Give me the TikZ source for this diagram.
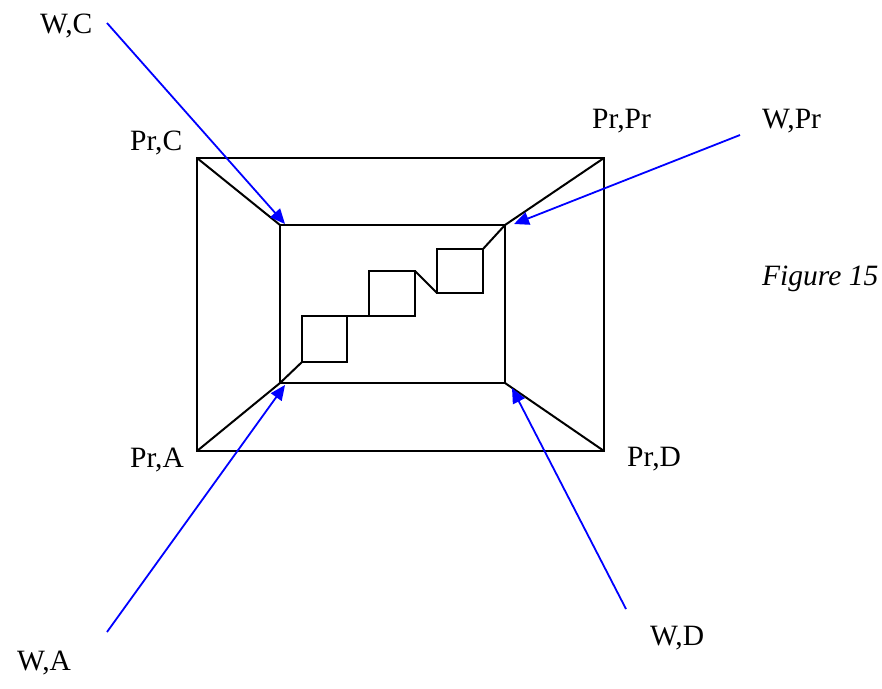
\documentclass[tikz,border=0pt]{standalone}
\usepackage{fontspec}
\setmainfont{Liberation Serif}
\usetikzlibrary{arrows.meta}
\begin{document}
\begin{tikzpicture}[x=1pt,y=-1pt,
  edge/.style={draw=black,line width=2pt,line join=miter},
  warrow/.style={draw=blue,line width=1.8pt,-{Triangle[length=15pt,width=13pt]}},
  lbl/.style={anchor=base west,inner sep=0pt,font=\fontsize{29.5}{34}\selectfont}]
\useasboundingbox (0,0) rectangle (882,688);
% outer corners
\coordinate (OC) at (197,158);
\coordinate (OP) at (604,158);
\coordinate (OA) at (197,451);
\coordinate (OD) at (604,451);
% inner corners
\coordinate (IC) at (280,225);
\coordinate (IP) at (505,225);
\coordinate (IA) at (280,383);
\coordinate (ID) at (505,383);
% small squares
\coordinate (S1a) at (302,362); \coordinate (S1b) at (347,316);
\coordinate (S2a) at (369,316); \coordinate (S2b) at (415,271);
\coordinate (S3a) at (437,293); \coordinate (S3b) at (483,249);
\draw[edge] (OC) rectangle (OD);
\draw[edge] (IC) rectangle (ID);
\draw[edge] (OC) -- (IC);
\draw[edge] (OP) -- (IP);
\draw[edge] (OA) -- (IA);
\draw[edge] (OD) -- (ID);
\draw[edge] (S1a) rectangle (S1b);
\draw[edge] (S2a) rectangle (S2b);
\draw[edge] (S3a) rectangle (S3b);
\draw[edge] (IA) -- (S1a);
\draw[edge] (S1b) -- (S2a);
\draw[edge] (S2b) -- (S3a);
\draw[edge] (S3b) -- (IP);
% labels
\node[lbl] (wc) at (40,33) {W,C};
\node[lbl] (prc) at (130,150) {Pr,C};
\node[lbl] (prpr) at (592,128) {Pr,Pr};
\node[lbl] (wpr) at (762,128) {W,Pr};
\node[lbl] (pra) at (130,467) {Pr,A};
\node[lbl] (prd) at (627,466) {Pr,D};
\node[lbl] (wa) at (17,670) {W,A};
\node[lbl] (wd) at (650,645) {W,D};
\node[lbl,font=\fontsize{29.5}{34}\selectfont\itshape] (fig) at (762,285) {Figure 15};
% arrows
\coordinate (aC) at (107,23);
\coordinate (aP) at (740,135);
\coordinate (aA) at (107,632);
\coordinate (aD) at (626,609);
\coordinate (tC) at (285,224);
\coordinate (tP) at (514,224);
\coordinate (tA) at (285,385);
\coordinate (tD) at (512,388);
\draw[warrow] (aC) -- (tC);
\draw[warrow] (aP) -- (tP);
\draw[warrow] (aA) -- (tA);
\draw[warrow] (aD) -- (tD);
\end{tikzpicture}
\end{document}
